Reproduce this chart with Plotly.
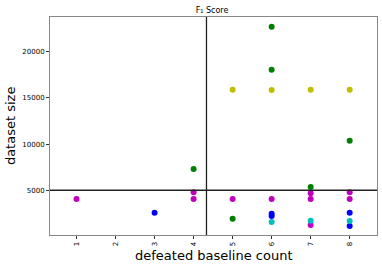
import plotly.graph_objects as go

# data
green_x = [4, 5, 6, 6, 7, 8]
green_y = [7300, 1930, 22700, 18050, 5360, 10370]
yellow_x = [5, 6, 7, 8]
yellow_y = [15880, 15850, 15880, 15880]
magenta_x = [1, 4, 4, 5, 6, 7, 7, 7, 8, 8]
magenta_y = [4060, 4780, 4060, 4060, 4060, 4670, 4060, 1240, 4780, 4060]
blue_x = [3, 6, 6, 8, 8]
blue_y = [2580, 2470, 2220, 2580, 1140]
cyan_x = [6, 7, 8]
cyan_y = [1570, 1710, 1680]

x_ticks = [1, 2, 3, 4, 5, 6, 7, 8]
y_ticks = [5000, 10000, 15000, 20000]
v_line_x = 4.33
h_line_y = 5000

fig = go.Figure()
for xs, ys, col in [
    (green_x, green_y, "#008000"),
    (yellow_x, yellow_y, "#bfbf00"),
    (magenta_x, magenta_y, "#bf00bf"),
    (blue_x, blue_y, "#0000ff"),
    (cyan_x, cyan_y, "#00bfbf"),
]:
    fig.add_trace(go.Scatter(x=xs, y=ys, mode="markers",
                             marker=dict(color=col, size=6, line=dict(width=0)),
                             showlegend=False, hoverinfo="skip"))

fig.add_shape(type="line", xref="x", yref="paper", x0=v_line_x, x1=v_line_x, y0=0, y1=1,
              line=dict(color="#222222", width=1.3))
fig.add_shape(type="line", xref="paper", yref="y", x0=0, x1=1, y0=h_line_y, y1=h_line_y,
              line=dict(color="#222222", width=1.3))

fig.add_annotation(text="defeated baseline count", xref="paper", yref="paper",
                   x=0.5, y=-0.092, xanchor="center", yanchor="middle",
                   showarrow=False, font=dict(size=13, color="black"))
fig.add_annotation(text="dataset size", xref="paper", yref="paper",
                   x=-0.122, y=0.5, xanchor="center", yanchor="middle", textangle=-90,
                   showarrow=False, font=dict(size=13, color="black"))

fig.update_layout(
    width=382, height=266,
    margin=dict(l=50, r=5, t=17, b=31, autoexpand=False),
    paper_bgcolor="white", plot_bgcolor="white",
    font=dict(family="DejaVu Sans", color="black"),
    title=dict(text="F₁ Score", x=0.555, xanchor="center", xref="container",
               y=0.962, yref="container", yanchor="middle",
               font=dict(size=8, color="black"), automargin=False),
)
fig.update_xaxes(
    range=[0.32, 8.7], tickmode="array", tickvals=x_ticks,
    ticktext=[str(t) for t in x_ticks], tickangle=-90,
    tickfont=dict(size=7, color="black"), ticks="outside", ticklen=3, tickcolor="#333",
    showgrid=False, zeroline=False, showline=True, linecolor="#888", linewidth=1, mirror=True,
    automargin=False,
)
fig.update_yaxes(
    range=[160, 23750], tickmode="array", tickvals=y_ticks,
    ticktext=[str(t) for t in y_ticks],
    tickfont=dict(size=7, color="black"), ticks="outside", ticklen=3, tickcolor="#333",
    showgrid=False, zeroline=False, showline=True, linecolor="#888", linewidth=1, mirror=True,
    automargin=False,
)

fig.write_html("out.html", config={"displayModeBar": False},
               post_script="document.body.style.margin='0';document.body.style.padding='0';")
